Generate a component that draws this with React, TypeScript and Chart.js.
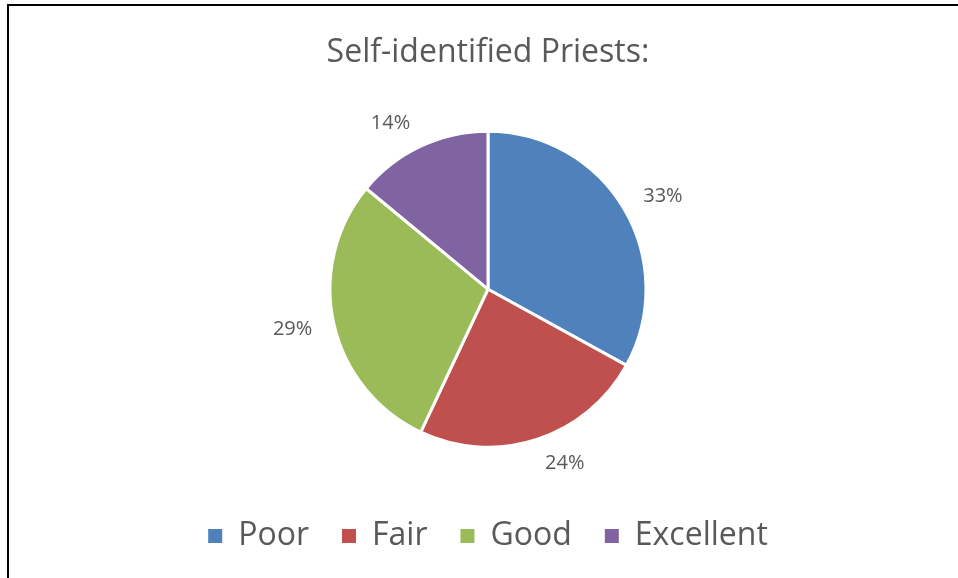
import React, { useEffect, useRef } from "react";
import { Chart, registerables } from "chart.js";

Chart.register(...registerables);

const TITLE = "Self-identified Priests:";
const CATEGORIES = ["Poor", "Fair", "Good", "Excellent"];
const PERCENTS = [33, 24, 29, 14];
const COLORS = ["#4F81BD", "#C0504D", "#9BBB59", "#8064A2"];
const TEXT_COLOR = "#595959";
const FONT = "'Open Sans', 'Noto Sans', sans-serif";

const frame = {
  id: "frame",
  beforeDraw(chart: any) {
    const ctx = chart.ctx;
    ctx.save();
    ctx.fillStyle = "#ffffff";
    ctx.fillRect(0, 0, chart.width, chart.height);
    ctx.fillStyle = "#000000";
    ctx.fillRect(7, 4, 2, chart.height - 4);
    ctx.fillRect(7, 4, chart.width - 7, 2);
    ctx.restore();
  },
};

const outsideLabels = {
  id: "outsideLabels",
  afterDatasetsDraw(chart: any) {
    const ctx = chart.ctx;
    const meta = chart.getDatasetMeta(0);
    const data = chart.data.datasets[0].data;
    ctx.save();
    ctx.font = `20px ${FONT}`;
    ctx.fillStyle = TEXT_COLOR;
    ctx.textAlign = "center";
    ctx.textBaseline = "middle";
    meta.data.forEach((arc: any, i: number) => {
      const { x, y, startAngle, endAngle, outerRadius } = arc.getProps(
        ["x", "y", "startAngle", "endAngle", "outerRadius"],
        true
      );
      const mid = (startAngle + endAngle) / 2;
      const c = Math.cos(mid);
      const s = Math.sin(mid);
      const r = outerRadius + 20;
      const ax = x + c * r;
      const ay = y + s * r;
      const label = `${data[i]}%`;
      const hw = ctx.measureText(label).width / 2;
      const hh = 10;
      ctx.fillText(label, ax + Math.sign(c) * (hw + 2), ay + s * hh * 0.5);
    });
    ctx.restore();
  },
};

export default function App() {
  const ref = useRef<HTMLCanvasElement | null>(null);
  useEffect(() => {
    if (!ref.current) return;
    const chart = new Chart(ref.current, {
      type: "pie",
      data: {
        labels: CATEGORIES,
        datasets: [
          {
            data: PERCENTS,
            backgroundColor: COLORS,
            borderColor: "#ffffff",
            borderWidth: 3,
            radius: 158,
          },
        ],
      },
      options: {
        animation: false,
        responsive: false,
        maintainAspectRatio: false,
        layout: { padding: { left: 18, right: 0, top: 0, bottom: 16 } },
        plugins: {
          title: {
            display: true,
            text: TITLE,
            color: TEXT_COLOR,
            font: { family: FONT, size: 32, weight: "normal", lineHeight: 1.2 },
            padding: { top: 34, bottom: 19 },
          },
          legend: {
            position: "bottom",
            labels: {
              color: TEXT_COLOR,
              font: { family: FONT, size: 32 },
              boxWidth: 14,
              boxHeight: 14,
              padding: 33,
              generateLabels(chart: any) {
                const items = Chart.overrides.pie.plugins.legend.labels.generateLabels(chart);
                return items.map((it: any) => ({
                  ...it,
                  lineWidth: 0,
                  strokeStyle: it.fillStyle,
                }));
              },
            },
          },
          tooltip: { enabled: false },
        },
      },
      plugins: [frame, outsideLabels],
    });
    return () => chart.destroy();
  }, []);
  return (
    <div style={{ position: "absolute", left: 0, top: 0, width: 958, height: 578 }}>
      <canvas ref={ref} width={958} height={578} style={{ display: "block" }} />
    </div>
  );
}
